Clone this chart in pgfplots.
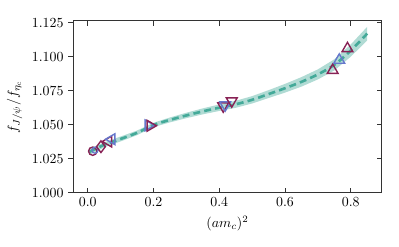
\documentclass[border=0pt]{standalone}
\usepackage{pgfplots}
\pgfplotsset{compat=1.18}
\definecolor{teal1}{HTML}{44AA99}
\definecolor{wine}{HTML}{882255}
\definecolor{blu}{HTML}{6677CC}
\pgfplotsset{common/.style={at={(0,0)}, anchor=south west, scale only axis,
  width=222pt, height=123.8pt,
  xmin=-0.044, xmax=0.894, ymin=1.0, ymax=1.1265,
  xtick={0,0.2,0.4,0.6,0.8},
  ytick={1.0,1.025,1.05,1.075,1.1,1.125},
  major tick length=3.5pt,
  tick style={black!80, line width=0.6pt},
  axis line style={black!80, line width=0.6pt}}}
\begin{document}
\begin{tikzpicture}
\begin{axis}[common,
  xticklabel style={/pgf/number format/.cd,fixed,fixed zerofill,precision=1},
  yticklabel style={/pgf/number format/.cd,fixed,fixed zerofill,precision=3},
  xtick align=inside, ytick align=outside, ytick pos=left,
  xlabel={$(am_c)^2$}, ylabel={$f_{J/\psi}/f_{\eta_c}$},
]
\addplot[fill=teal1, fill opacity=0.42, draw=none, forget plot] coordinates {
(0.005,1.0323) (0.05,1.0370) (0.1,1.0413) (0.15,1.0457) (0.2,1.0514) (0.25,1.0553)
(0.3,1.0588) (0.35,1.0620) (0.4,1.0649) (0.45,1.0676) (0.5,1.0710) (0.55,1.0754)
(0.6,1.0800) (0.65,1.0850) (0.7,1.0907) (0.75,1.0981) (0.8,1.1090) (0.85,1.1220)
(0.85,1.1120) (0.8,1.1000) (0.75,1.0899) (0.7,1.0833) (0.65,1.0780) (0.6,1.0736)
(0.55,1.0696) (0.5,1.0656) (0.45,1.0624) (0.4,1.0601) (0.35,1.0576) (0.3,1.0548)
(0.25,1.0517) (0.2,1.0482) (0.15,1.0423) (0.1,1.0377) (0.05,1.0334) (0.005,1.0277)} -- cycle;
\addplot[teal1, line width=1.9pt, dash pattern=on 5pt off 3pt, smooth] coordinates {
(0.005,1.0300) (0.05,1.0352) (0.1,1.0395) (0.15,1.0440) (0.2,1.0498) (0.25,1.0535)
(0.3,1.0568) (0.35,1.0598) (0.4,1.0625) (0.45,1.0650) (0.5,1.0683) (0.55,1.0725)
(0.6,1.0768) (0.65,1.0815) (0.7,1.0870) (0.75,1.0940) (0.8,1.1045) (0.85,1.1170)};
% circles / diamonds
\addplot[only marks, mark=o, mark size=3.0pt, wine, mark options={line width=1pt}] coordinates {(0.015,1.0305)};
\addplot[only marks, mark=o, mark size=2.2pt, blu, mark options={line width=0.9pt}] coordinates {(0.022,1.0312)};
\addplot[only marks, mark=diamond, mark size=4.2pt, wine, mark options={line width=1pt}] coordinates {(0.040,1.0338)};
% left triangles
\addplot[only marks, mark=triangle, mark size=4.5pt, wine, mark options={rotate=90, line width=1pt}] coordinates {(0.063,1.0376)};
\addplot[only marks, mark=triangle, mark size=4.5pt, blu, mark options={rotate=90, line width=1pt}] coordinates {(0.073,1.0393)};
% right triangles
\addplot[only marks, mark=triangle, mark size=4.5pt, blu, mark options={rotate=-90, line width=1pt}] coordinates {(0.184,1.0495)};
\addplot[only marks, mark=triangle, mark size=4.5pt, wine, mark options={rotate=-90, line width=1pt}] coordinates {(0.190,1.0492)};
% down triangles
\addplot[only marks, mark=triangle, mark size=4.5pt, wine, mark options={rotate=180, line width=1pt}] coordinates {(0.412,1.0637)};
\addplot[only marks, mark=triangle, mark size=4.5pt, blu, mark options={rotate=180, line width=1pt}] coordinates {(0.418,1.0645)};
\addplot[only marks, mark=triangle, mark size=4.5pt, wine, mark options={rotate=180, line width=1pt}] coordinates {(0.438,1.0674)};
% up triangles
\addplot[only marks, mark=triangle, mark size=4.5pt, wine, mark options={line width=1pt}] coordinates {(0.745,1.0900)};
\addplot[only marks, mark=triangle, mark size=4.5pt, blu, mark options={line width=1pt}] coordinates {(0.765,1.0975)};
\addplot[only marks, mark=triangle, mark size=4.5pt, wine, mark options={line width=1pt}] coordinates {(0.790,1.1060)};
\end{axis}
\begin{axis}[common, axis x line=none, axis y line*=right,
  ytick align=inside, yticklabels={}]
\end{axis}
\pgfresetboundingbox
\path[use as bounding box] (-52.8pt,-39.1pt) rectangle (234.5pt,138.7pt);
\end{tikzpicture}
\end{document}
